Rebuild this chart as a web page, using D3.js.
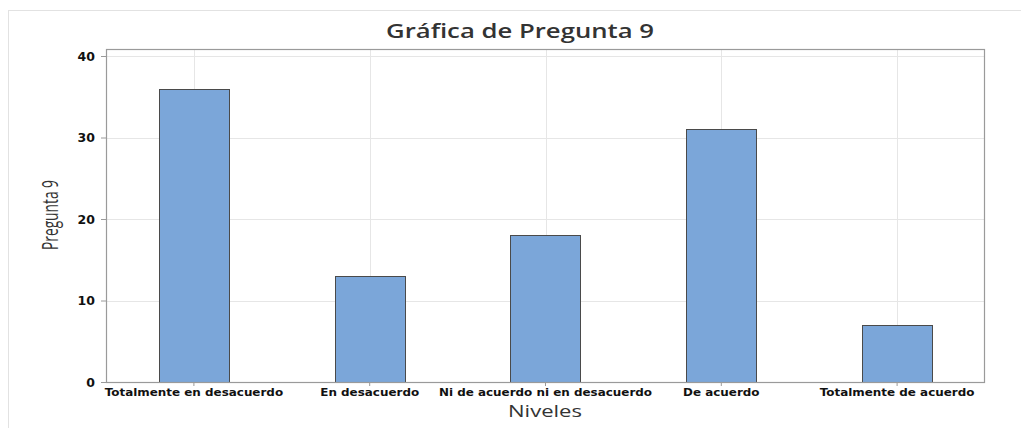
<!DOCTYPE html>
<html><head><meta charset="utf-8">
<script src="https://cdn.jsdelivr.net/npm/d3@7"></script>
<style>
body{margin:0;background:#fff;}
svg{display:block;}
</style></head>
<body><svg id="c" width="1021" height="428"></svg>
<script>
const categories = ["Totalmente en desacuerdo","En desacuerdo","Ni de acuerdo ni en desacuerdo","De acuerdo","Totalmente de acuerdo"];
const values = [36, 13, 18, 31, 7];
const yTicks = [0, 10, 20, 30, 40];
const title = "Gráfica de Pregunta 9";
const xLabel = "Niveles";
const yLabel = "Pregunta 9";

const svg = d3.select("#c");
const W = 1021, H = 428;
const m = {left:106, right:36, top:49, bottom:46};
const pw = W - m.left - m.right, ph = H - m.top - m.bottom;

// outer frame
svg.append("line").attr("x1",8.5).attr("x2",8.5).attr("y1",10).attr("y2",H).attr("stroke","#e2e2e2");
svg.append("line").attr("x1",8).attr("x2",W).attr("y1",10.5).attr("y2",10.5).attr("stroke","#e2e2e2");

const x = d3.scaleBand().domain(categories).range([m.left, m.left+pw]).paddingInner(0.6).paddingOuter(0.3);
const y = d3.scaleLinear().domain([0, 40]).range([m.top+ph, m.top+ph-326]);

const g = svg.append("g");
// gridlines
g.selectAll(".hg").data(yTicks.filter(d=>d>0)).join("line")
  .attr("x1",m.left).attr("x2",m.left+pw)
  .attr("y1",d=>Math.round(y(d))+0.5).attr("y2",d=>Math.round(y(d))+0.5)
  .attr("stroke","#e6e6e6");
g.selectAll(".vg").data(categories).join("line")
  .attr("x1",d=>Math.round(x(d)+x.bandwidth()/2)+0.5).attr("x2",d=>Math.round(x(d)+x.bandwidth()/2)+0.5)
  .attr("y1",m.top).attr("y2",m.top+ph)
  .attr("stroke","#e6e6e6");

// bars
g.selectAll(".bar").data(values).join("rect")
  .attr("x",(d,i)=>Math.round(x(categories[i]))+0.5)
  .attr("width",Math.round(x.bandwidth()))
  .attr("y",d=>Math.round(y(d))+0.5)
  .attr("height",d=>Math.round(y(0))-Math.round(y(d)))
  .attr("fill","#7ba6d9").attr("stroke","#4a4a4a").attr("stroke-width",1);

// frame
svg.append("rect").attr("x",m.left+0.5).attr("y",m.top+0.5).attr("width",pw-1).attr("height",ph)
  .attr("fill","none").attr("stroke","#9a9a9a").attr("stroke-width",1.2);

// axes
const yAxis = svg.append("g").attr("transform",`translate(${m.left},0)`)
  .call(d3.axisLeft(y).tickValues(yTicks).tickSize(5).tickPadding(6));
const xAxis = svg.append("g").attr("transform",`translate(0,${m.top+ph})`)
  .call(d3.axisBottom(x).tickSize(4).tickPadding(3));
[yAxis,xAxis].forEach(a=>{
  a.select(".domain").remove();
  a.selectAll(".tick line").attr("stroke","#9a9a9a");
  a.selectAll("text").attr("fill","#111").style("font-family","'DejaVu Sans', sans-serif").style("font-weight","bold");
});
yAxis.selectAll("text").style("font-size","12.5px");
xAxis.selectAll("text").style("font-size","10.3px").attr("transform","scale(1.16,1)");

// title
svg.append("text").attr("x",520).attr("y",38).attr("text-anchor","middle")
  .attr("textLength",268).attr("lengthAdjust","spacingAndGlyphs")
  .style("font-family","'Open Sans', sans-serif").style("font-size","20px").style("font-weight","600")
  .attr("fill","#333").text(title);
// x label
svg.append("text").attr("x",545).attr("y",417).attr("text-anchor","middle")
  .attr("textLength",74).attr("lengthAdjust","spacingAndGlyphs")
  .style("font-family","'Open Sans', sans-serif").style("font-size","16.5px")
  .attr("fill","#333").text(xLabel);
// y label
svg.append("text").attr("transform","translate(58,215) rotate(-90)").attr("text-anchor","middle")
  .attr("textLength",70).attr("lengthAdjust","spacingAndGlyphs")
  .style("font-family","'Open Sans', sans-serif").style("font-size","21px")
  .attr("fill","#333").text(yLabel);
</script></body></html>
